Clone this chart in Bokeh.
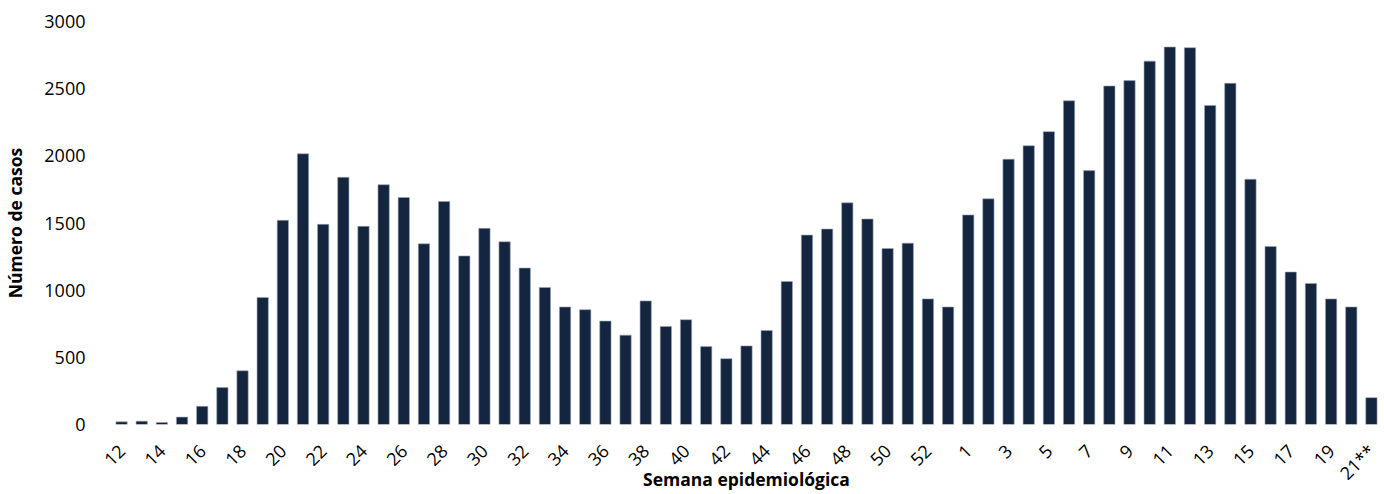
import math
from bokeh.plotting import figure
from bokeh.models import FixedTicker, Range1d, ColumnDataSource
from bokeh.embed import file_html
from bokeh.resources import INLINE

# --- data ---
weeks = [str(w) for w in range(12, 54)] + [str(w) for w in range(1, 21)] + ["21**"]
cases = [20, 25, 15, 55, 135, 275, 400, 945, 1520, 2015,
         1490, 1840, 1475, 1785, 1690, 1345, 1660, 1255, 1460, 1360,
         1165, 1020, 875, 855, 770, 665, 920, 730, 780, 580,
         490, 585, 700, 1065, 1410, 1455, 1650, 1530, 1310, 1350,
         935, 875,
         1560, 1680, 1975, 2075, 2180, 2410, 1890, 2520, 2560, 2705,
         2810, 2805, 2375, 2540, 1825, 1325, 1135, 1050, 935, 875, 200]
y_ticks = [0, 500, 1000, 1500, 2000, 2500, 3000]
x_title = "Semana epidemiológica"
y_title = "Número de casos"

idx = list(range(len(weeks)))
tick_idx = idx[0::2]

FONT = "Open Sans"
BAR = "#13253f"

W, H = 1384, 494

p = figure(width=W, height=H, output_backend="svg", toolbar_location=None,
           x_range=Range1d(-0.5, 62.5), y_range=Range1d(0, 3000),
           min_border_left=101, min_border_right=3, min_border_top=21,
           min_border_bottom=66)
p.outline_line_color = None
p.xgrid.visible = False
p.ygrid.visible = False
p.background_fill_color = "white"

src = ColumnDataSource(dict(x=idx, top=cases))
p.vbar(x="x", top="top", bottom=0, width=0.56, source=src,
       fill_color=BAR, line_color="#9aa6b6", line_width=0.6)

# y axis
ya = p.yaxis[0]
ya.ticker = FixedTicker(ticks=y_ticks)
ya.axis_line_color = None
ya.major_tick_line_color = None
ya.minor_tick_line_color = None
ya.major_label_standoff = 20
ya.major_label_text_font = FONT
ya.major_label_text_font_size = "18px"
ya.major_label_text_color = "black"
ya.axis_label = y_title
ya.axis_label_text_font = FONT
ya.axis_label_text_font_size = "17.5px"
ya.axis_label_text_font_style = "bold"
ya.axis_label_text_color = "black"
ya.axis_label_standoff = 14

# x axis
xa = p.xaxis[0]
xa.ticker = FixedTicker(ticks=tick_idx)
xa.major_label_overrides = {i: weeks[i] for i in tick_idx}
xa.major_label_orientation = math.pi / 4
xa.axis_line_color = None
xa.major_tick_line_color = None
xa.minor_tick_line_color = None
xa.major_label_standoff = 17
xa.major_label_text_font = FONT
xa.major_label_text_font_size = "18px"
xa.major_label_text_color = "black"
xa.axis_label = x_title
xa.axis_label_text_font = FONT
xa.axis_label_text_font_size = "17.5px"
xa.axis_label_text_font_style = "bold"
xa.axis_label_text_color = "black"
xa.axis_label_standoff = -29

open("out.html", "w").write(file_html(p, INLINE))
